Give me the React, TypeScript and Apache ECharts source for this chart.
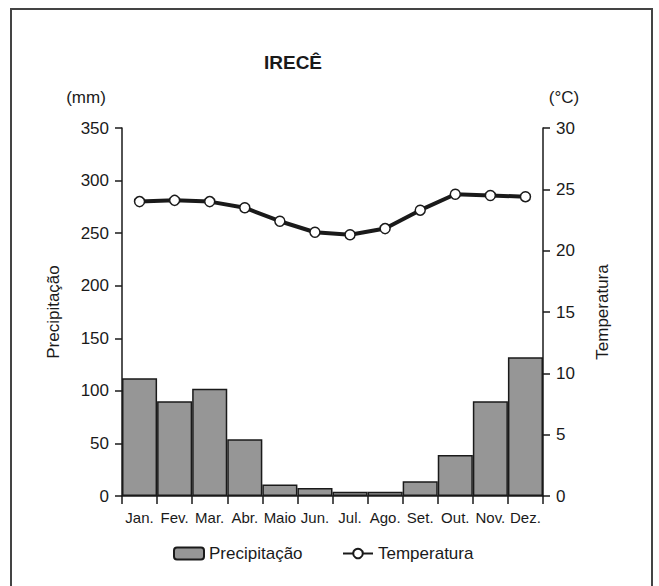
import React, { useEffect, useRef } from "react";
import * as echarts from "echarts";

const months = ["Jan.", "Fev.", "Mar.", "Abr.", "Maio", "Jun.", "Jul.", "Ago.", "Set.", "Out.", "Nov.", "Dez."];
const precipitation = [112, 90, 102, 54, 11, 7.5, 4, 4, 14, 39, 90, 132];
const temperature = [24.0, 24.1, 24.0, 23.5, 22.4, 21.5, 21.3, 21.8, 23.3, 24.6, 24.5, 24.4];
const precipAxis = { min: 0, max: 350, interval: 50 };
const tempAxis = { min: 0, max: 30, interval: 5 };

const FONT = "'Liberation Sans', Arial, sans-serif";
const INK = "#1a1a1a";

export default function App() {
  const ref = useRef<HTMLDivElement>(null);
  useEffect(() => {
    if (!ref.current) return;
    const chart = echarts.init(ref.current, undefined, { renderer: "svg" });
    chart.setOption({
      animation: false,
      backgroundColor: "#ffffff",
      textStyle: { fontFamily: FONT, color: INK },
      title: {
        text: "IRECÊ",
        left: 288,
        top: 48,
        textAlign: "center",
        textStyle: { fontFamily: FONT, fontSize: 19, fontWeight: "bold", color: INK },
      },
      grid: { left: 122, right: 116, top: 128, bottom: 90, containLabel: false },
      legend: [
        {
          data: ["Precipitação"],
          left: 168,
          top: 540,
          itemWidth: 30,
          itemHeight: 12,
          textStyle: { fontFamily: FONT, fontSize: 17, color: INK },
        },
        {
          data: ["Temperatura"],
          left: 337,
          top: 540,
          itemWidth: 30,
          itemHeight: 12,
          textStyle: { fontFamily: FONT, fontSize: 17, color: INK },
        },
      ],
      xAxis: {
        type: "category",
        data: months,
        boundaryGap: true,
        axisLine: { show: true, lineStyle: { color: INK, width: 1.5 } },
        axisTick: { show: true, interval: 0, alignWithLabel: false, length: 8, lineStyle: { color: INK, width: 1.5 } },
        axisLabel: { interval: 0, fontFamily: FONT, fontSize: 15, color: INK, margin: 14 },
        splitLine: { show: false },
      },
      yAxis: [
        {
          type: "value",
          min: precipAxis.min,
          max: precipAxis.max,
          interval: precipAxis.interval,
          position: "left",
          axisLine: { show: true, lineStyle: { color: INK, width: 1.5 } },
          axisTick: { show: true, length: 7, lineStyle: { color: INK, width: 1.5 } },
          axisLabel: { fontFamily: FONT, fontSize: 17, color: INK, margin: 13 },
          splitLine: { show: false },
        },
        {
          type: "value",
          min: tempAxis.min,
          max: tempAxis.max,
          interval: tempAxis.interval,
          position: "right",
          axisLine: { show: true, lineStyle: { color: INK, width: 1.5 } },
          axisTick: { show: true, length: 7, lineStyle: { color: INK, width: 1.5 } },
          axisLabel: { fontFamily: FONT, fontSize: 17, color: INK, margin: 13 },
          splitLine: { show: false },
        },
      ],
      series: [
        {
          name: "Precipitação",
          type: "bar",
          yAxisIndex: 0,
          data: precipitation,
          barCategoryGap: "0%",
          itemStyle: { color: "#969696", borderColor: INK, borderWidth: 1.5 },
        },
        {
          name: "Temperatura",
          type: "line",
          yAxisIndex: 1,
          data: temperature,
          symbol: "circle",
          symbolSize: 10,
          lineStyle: { color: INK, width: 4 },
          itemStyle: { color: "#ffffff", borderColor: INK, borderWidth: 1.5 },
          z: 5,
        },
      ],
      graphic: [
        {
          type: "rect",
          shape: { x: 11, y: 9, width: 641, height: 620 },
          style: { fill: "none", stroke: "#444444", lineWidth: 2 },
          silent: true,
        },
        {
          type: "text",
          x: 86,
          y: 97,
          style: { text: "(mm)", fontFamily: FONT, fontSize: 17, fill: INK, align: "center", verticalAlign: "middle" },
        },
        {
          type: "text",
          x: 564,
          y: 97,
          style: { text: "(°C)", fontFamily: FONT, fontSize: 17, fill: INK, align: "center", verticalAlign: "middle" },
        },
        {
          type: "text",
          x: 53,
          y: 312,
          rotation: Math.PI / 2,
          style: { text: "Precipitação", fontFamily: FONT, fontSize: 17, fill: INK, align: "center", verticalAlign: "middle" },
        },
        {
          type: "text",
          x: 602,
          y: 312,
          rotation: Math.PI / 2,
          style: { text: "Temperatura", fontFamily: FONT, fontSize: 17, fill: INK, align: "center", verticalAlign: "middle" },
        },
      ],
    });
    return () => chart.dispose();
  }, []);
  return (
    <div
      ref={ref}
      style={{ position: "fixed", left: 0, top: 0, width: 659, height: 586 }}
    />
  );
}
